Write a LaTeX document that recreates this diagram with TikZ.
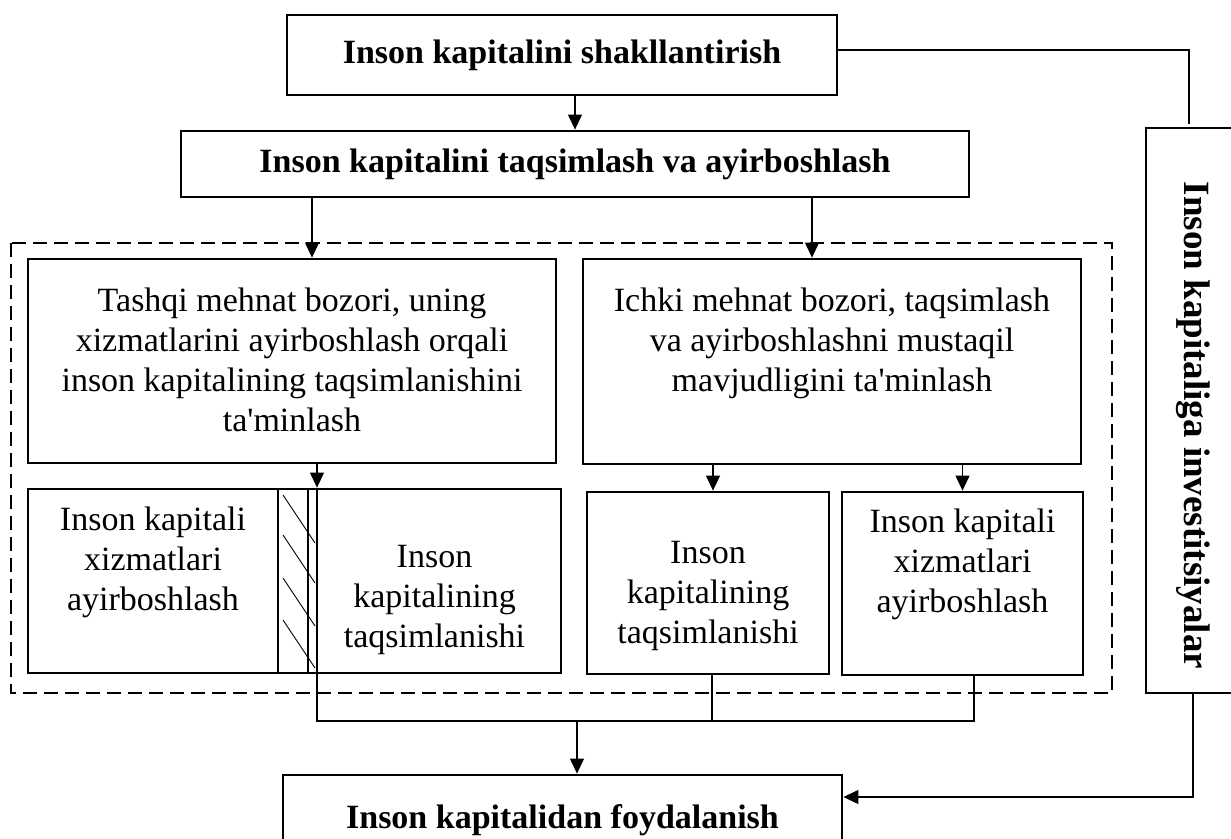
\documentclass[tikz,border=0pt]{standalone}
\usepackage{fontspec}
\setmainfont{Liberation Serif}
\usetikzlibrary{arrows.meta, positioning}

\begin{document}
\begin{tikzpicture}[x=1pt, y=-1pt, >={Triangle[width=14pt,length=15pt]},
    box/.style={draw, line width=2.8pt, inner sep=0pt},
    txt/.style={align=center, inner sep=0pt, font=\fontsize{34}{40}\selectfont},
    btxt/.style={inner sep=0pt, font=\fontsize{34}{40}\selectfont\bfseries},
    conn/.style={line width=1.1pt}]
    \useasboundingbox (0,0) rectangle (1231,838);
    % Yuqori bloklar
    \node[box, btxt, minimum width=550pt, minimum height=80pt] (shakl) at (562,55) {Inson kapitalini shakllantirish};
    \node[box, btxt, minimum width=788pt, minimum height=66pt] (taqs) at (575,164) {Inson kapitalini taqsimlash va ayirboshlash};
    % Mehnat bozori (punktir ramka)
    \draw[line width=1.4pt, dash pattern=on 14pt off 7pt] (11,243) rectangle (1112,693);
    \node[box, minimum width=528pt, minimum height=204pt] (tashqi) at (292,361) {};
    \node[txt, below=30pt of tashqi.north] (tashqiTxt) {Tashqi mehnat bozori, uning\\ xizmatlarini ayirboshlash orqali\\ inson kapitalining taqsimlanishini\\ ta\textquotesingle minlash};
    \node[box, minimum width=498pt, minimum height=205pt] (ichki) at (832,361.5) {};
    \node[txt, below=30pt of ichki.north] (ichkiTxt) {Ichki mehnat bozori, taqsimlash\\ va ayirboshlashni mustaqil\\ mavjudligini ta\textquotesingle minlash};
    % Pastki bloklar
    \node[box, minimum width=250pt, minimum height=184pt] (boxA) at (153,581) {};
    \node[txt, below=19pt of boxA.north] (boxAtxt) {Inson kapitali\\ xizmatlari\\ ayirboshlash};
    \node[box, minimum width=30pt, minimum height=184pt] (hatch) at (293,581) {};
    \foreach \y in {495,535,578,620}
        \draw[line width=0.9pt] (283,\y) -- ++(32,48);
    \node[box, minimum width=253pt, minimum height=184pt] (boxB) at (434.5,581) {};
    \node[txt, below=57pt of boxB.north] (boxBtxt) {Inson\\ kapitalining\\ taqsimlanishi};
    \node[box, minimum width=242pt, minimum height=182pt] (boxC) at (708,583) {};
    \node[txt, below=50pt of boxC.north] (boxCtxt) {Inson\\ kapitalining\\ taqsimlanishi};
    \node[box, minimum width=241pt, minimum height=183pt] (boxD) at (962.5,583.5) {};
    \node[txt, below=18pt of boxD.north] (boxDtxt) {Inson kapitali\\ xizmatlari\\ ayirboshlash};
    % Foydalanish va investitsiyalar
    \node[box, btxt, minimum width=559pt, minimum height=90pt] (foyd) at (562.5,820) {Inson kapitalidan foydalanish};
    \node[box, minimum width=94pt, minimum height=565pt] (invest) at (1193,410.5) {};
    \node[btxt, font=\fontsize{37}{40}\selectfont\bfseries, rotate=-90] (investTxt) at ([yshift=-15pt]invest.center) {Inson kapitaliga investitsiyalar};
    % Strelkalar
    \draw[conn, ->] (shakl.south -| taqs.north) -- (taqs.north);
    \draw[conn, ->] ([xshift=20pt]taqs.south -| tashqi.north) -- ([xshift=20pt]tashqi.north);
    \draw[conn, ->] ([xshift=-20pt]taqs.south -| ichki.north) -- ([xshift=-20pt]ichki.north);
    \coordinate (busL) at (317,721);
    \coordinate (busM) at (577,721);
    \draw[conn, ->] (tashqi.south -| busL) -- (boxB.north -| busL);
    \draw[conn] (boxB.north -| busL) -- (busL) -- ([xshift=11.5pt]boxD.south |- busL) -- ([xshift=11.5pt]boxD.south);
    \draw[conn, ->] ([xshift=5pt]ichki.south -| boxC.north) -- ([xshift=5pt]boxC.north);
    \draw[conn, ->] (ichki.south -| boxD.north) -- (boxD.north);
    \draw[conn] ([xshift=4pt]boxC.south) -- ([xshift=4pt]boxC.south |- busL);
    \draw[conn, ->] (busM) -- (busM |- foyd.north);
    \draw[conn, ->] (invest.south) |- ([yshift=23pt]foyd.east);
    \draw[conn] ([yshift=5pt]shakl.east) -| ([xshift=-4pt,yshift=3pt]invest.north);
\end{tikzpicture}
\end{document}
